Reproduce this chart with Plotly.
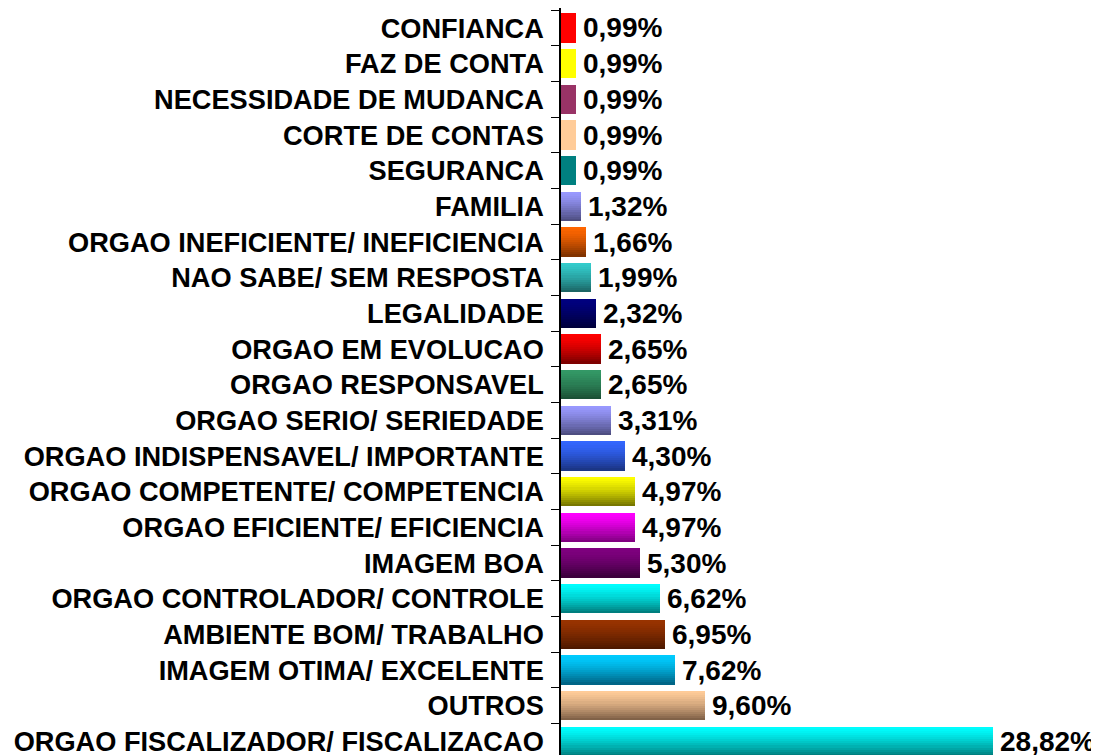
import plotly.graph_objects as go

categories = [
    "ORGAO FISCALIZADOR/ FISCALIZACAO",
    "OUTROS",
    "IMAGEM OTIMA/ EXCELENTE",
    "AMBIENTE BOM/ TRABALHO",
    "ORGAO CONTROLADOR/ CONTROLE",
    "IMAGEM BOA",
    "ORGAO EFICIENTE/ EFICIENCIA",
    "ORGAO COMPETENTE/ COMPETENCIA",
    "ORGAO INDISPENSAVEL/ IMPORTANTE",
    "ORGAO SERIO/ SERIEDADE",
    "ORGAO RESPONSAVEL",
    "ORGAO EM EVOLUCAO",
    "LEGALIDADE",
    "NAO SABE/ SEM RESPOSTA",
    "ORGAO INEFICIENTE/ INEFICIENCIA",
    "FAMILIA",
    "SEGURANCA",
    "CORTE DE CONTAS",
    "NECESSIDADE DE MUDANCA",
    "FAZ DE CONTA",
    "CONFIANCA",
]
values = [28.82, 9.60, 7.62, 6.95, 6.62, 5.30, 4.97, 4.97, 4.30, 3.31, 2.65,
          2.65, 2.32, 1.99, 1.66, 1.32, 0.99, 0.99, 0.99, 0.99, 0.99]
value_labels = ["28,82%", "9,60%", "7,62%", "6,95%", "6,62%", "5,30%", "4,97%",
                "4,97%", "4,30%", "3,31%", "2,65%", "2,65%", "2,32%", "1,99%",
                "1,66%", "1,32%", "0,99%", "0,99%", "0,99%", "0,99%", "0,99%"]
top_colors = ["#00FFFF", "#FFCC99", "#00CCFF", "#993300", "#00FFFF", "#800080",
              "#FF00FF", "#FFFF00", "#3366FF", "#9999FF", "#339966", "#FF0000",
              "#000080", "#33CCCC", "#FF6600", "#9999FF", "#008080", "#FFCC99",
              "#993366", "#FFFF00", "#FF0000"]
bottom_colors = ["#007878", "#7A5C44", "#006080", "#4A1800", "#007878", "#3A003A",
                 "#7A007A", "#707000", "#1A3380", "#4A4A7A", "#1A4D33", "#780000",
                 "#000038", "#1A6060", "#7A3000", "#4A4A7A", "#008080", "#FFCC99",
                 "#993366", "#FFFF00", "#FF0000"]


def hex2rgb(h):
    h = h.lstrip("#")
    return tuple(int(h[i:i + 2], 16) for i in (0, 2, 4))


def mix(c1, c2, t):
    a, b = hex2rgb(c1), hex2rgb(c2)
    return "rgb(%d,%d,%d)" % tuple(round(a[i] + (b[i] - a[i]) * t) for i in range(3))


FONT = "Liberation Sans, Arial, Helvetica, sans-serif"
bar_w = 0.82
n_slices = 14
slice_w = bar_w / n_slices

fig = go.Figure()
for k in range(n_slices):
    t = (k + 0.5) / n_slices
    t = t ** 1.4
    cols = [mix(tc, bc, t) for tc, bc in zip(top_colors, bottom_colors)]
    fig.add_trace(go.Bar(
        y=categories, x=values, orientation="h",
        width=slice_w + 0.004,
        offset=bar_w / 2 - (k + 1) * slice_w,
        marker=dict(color=cols, line=dict(width=0)),
        hoverinfo="skip", showlegend=False,
    ))

for cat, v, lab in zip(categories, values, value_labels):
    fig.add_annotation(x=v, y=cat, text=lab, showarrow=False, xanchor="left",
                       yanchor="middle", xshift=5,
                       font=dict(family=FONT, size=28, color="black", weight="bold"))

fig.update_layout(
    width=1091, height=747,
    margin=dict(l=553, r=0, t=0, b=0),
    paper_bgcolor="white", plot_bgcolor="white",
    barmode="overlay", bargap=0,
)
fig.update_xaxes(range=[0, 35.9], visible=False, showgrid=False, zeroline=False)
fig.update_yaxes(
    type="category", categoryorder="array", categoryarray=categories,
    range=[-0.38, 20.56], automargin=False,
    showline=True, linecolor="black", linewidth=1.5,
    ticks="outside", tickson="boundaries", ticklen=8, tickcolor="black",
    tickwidth=1.2, ticklabelstandoff=10, showgrid=False,
    tickfont=dict(family=FONT, size=27.2, color="black", weight="bold"),
)

fig.write_html("out.html")
